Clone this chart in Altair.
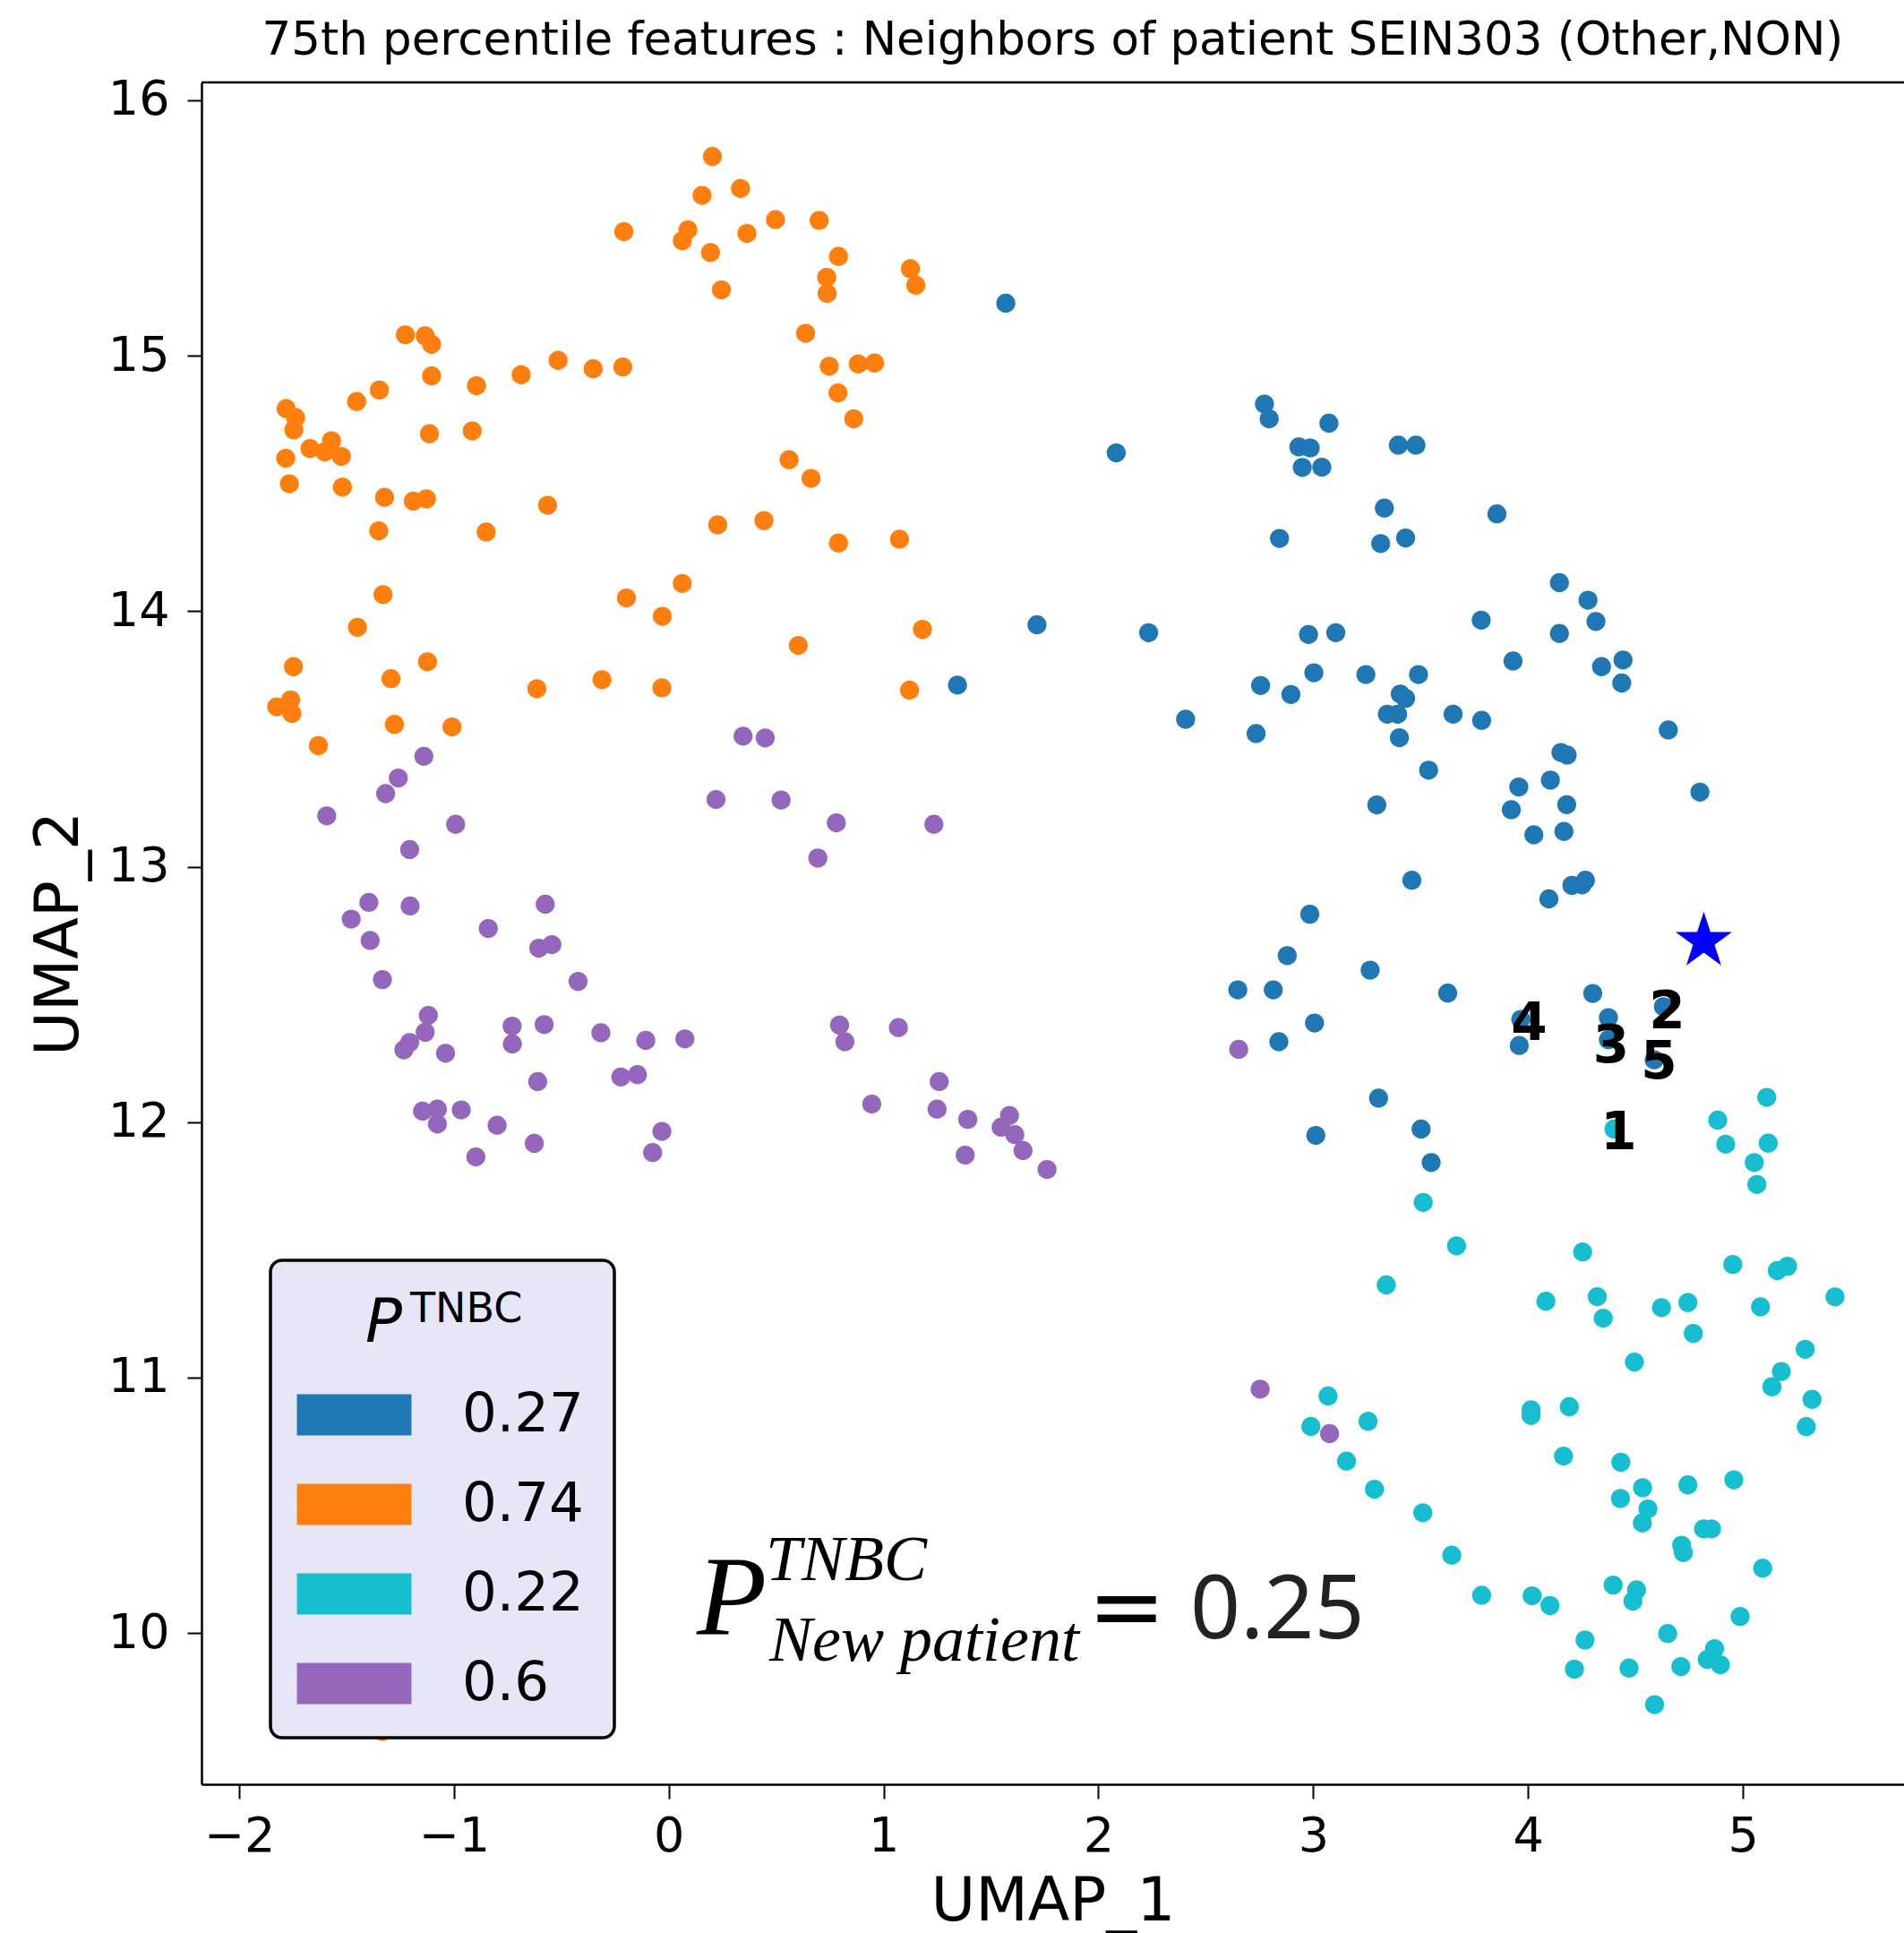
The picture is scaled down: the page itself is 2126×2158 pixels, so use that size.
import altair as alt
import pandas as pd

TITLE = "75th percentile features : Neighbors of patient SEIN303 (Other,NON)"
X_TITLE = "UMAP_1"
Y_TITLE = "UMAP_2"
x_ticks = [-2, -1, 0, 1, 2, 3, 4, 5]
y_ticks = [10, 11, 12, 13, 14, 15, 16]

group_labels = ["0.27", "0.74", "0.22", "0.6"]
group_colors = ["#1f77b4", "#ff7f0e", "#17becf", "#9467bd"]

# ---- group 0.27 (blue)
blue_x = [1.569, 2.083, 2.773, 2.795, 3.073, 2.933, 2.986, 2.949, 3.040, 2.843, 1.714, 2.234, 2.978, 3.105,
          3.396, 3.478, 3.331, 3.855, 3.314, 3.430, 4.146, 4.279, 4.316, 3.782, 4.146,
          3.245, 3.490, 3.930, 4.342, 4.442, 4.436, 3.405, 3.430, 3.345, 3.393, 3.651, 3.784, 3.401, 4.653,
          4.153, 4.182, 3.537, 3.957, 4.104, 4.800, 3.296, 3.922, 4.180, 4.027, 4.167, 3.459, 4.204, 4.252,
          4.267, 4.097, 3.265, 3.626, 4.301, 4.374, 4.374, 4.630, 4.587, 3.966, 3.959, 3.304, 3.502, 3.549,
          1.344, 2.406, 2.755, 2.896, 3.003, 2.734, 2.984, 2.879, 2.649, 2.814, 3.006, 2.840, 3.012]
blue_y = [15.206, 14.620, 14.811, 14.753, 14.736, 14.643, 14.639, 14.563, 14.564, 14.285, 13.947, 13.916, 13.909, 13.916,
          14.650, 14.650, 14.404, 14.381, 14.265, 14.287, 14.112, 14.043, 13.960, 13.965, 13.913,
          13.752, 13.752, 13.805, 13.783, 13.809, 13.719, 13.676, 13.659, 13.597, 13.597, 13.597, 13.573, 13.505, 13.535,
          13.447, 13.437, 13.378, 13.312, 13.339, 13.292, 13.242, 13.223, 13.243, 13.125, 13.138, 12.947, 12.927, 12.929,
          12.947, 12.874, 12.595, 12.505, 12.504, 12.409, 12.323, 12.452, 12.244, 12.402, 12.300, 12.094, 11.973, 11.842,
          13.711, 13.577, 13.709, 13.674, 13.759, 13.521, 12.814, 12.652, 12.518, 12.518, 12.388, 12.315, 11.948]

# ---- group 0.74 (orange)
orange_x = [0.203, 0.155, 0.334, -0.209, 0.089, 0.063, 0.194, 0.364, 0.245, -1.226, -1.134, -1.104, -1.104, -0.895,
            -0.687, -0.515, -0.352, -0.214, -1.347, -1.453, -1.781, -1.737, -1.745, -1.114, -0.915, -1.670, -1.570,
            -1.601, -1.524, -1.783, -1.766, -1.519, -1.323, -1.189, -1.128, -0.564, -1.350, -0.850, 0.228, 0.443,
            -1.330, -1.449, -0.197, 0.063, -0.030,
            0.497, 0.700, 0.790, 0.735, 0.737, 1.125, 1.150, 0.637, 0.747, 0.882, 0.958, 0.788, 0.861, 0.560, 0.662,
            0.790, 1.074, 1.181, 0.603, 1.121,
            -1.747, -1.123, -1.293, -0.614, -0.311, -0.032, -1.825, -1.760, -1.754, -1.277, -1.009, -1.631, -1.333]
orange_y = [15.780, 15.628, 15.655, 15.486, 15.493, 15.450, 15.404, 15.479, 15.258, 15.082, 15.078, 15.045, 14.921, 14.883,
            14.926, 14.982, 14.949, 14.956, 14.866, 14.821, 14.793, 14.758, 14.710, 14.695, 14.706, 14.637, 14.667,
            14.624, 14.606, 14.599, 14.499, 14.486, 14.446, 14.431, 14.440, 14.415, 14.315, 14.310, 14.338, 14.355,
            14.065, 13.937, 14.052, 14.109, 13.980,
            15.533, 15.530, 15.389, 15.307, 15.244, 15.341, 15.276, 15.088, 14.959, 14.968, 14.972, 14.855, 14.753, 14.593, 14.520,
            14.267, 14.282, 13.929, 13.866, 13.691,
            13.783, 13.802, 13.736, 13.697, 13.732, 13.700, 13.626, 13.653, 13.600, 13.557, 13.547, 13.474, 9.615]

# ---- group 0.22 (cyan)
cyan_x = [4.400, 5.111, 4.883, 4.920, 5.118, 5.053, 5.065, 3.512, 3.069, 2.989,
          3.667, 3.340, 4.254, 4.953, 5.160, 5.208, 5.429, 4.083, 4.322, 4.350, 4.621, 4.744, 4.769, 5.082, 4.495,
          5.290, 5.179, 5.135, 5.322, 5.295, 3.255, 3.155, 3.285, 3.510, 4.014, 4.014, 4.192, 4.165, 4.432, 4.533,
          4.430, 4.558, 4.532, 4.744, 4.958, 4.817, 4.854, 4.715, 4.723, 5.092, 3.645, 3.784, 4.019, 4.102, 4.396,
          4.505, 4.488, 4.987, 4.265, 4.650, 4.216, 4.470, 4.711, 4.868, 4.834, 4.895, 4.589]
cyan_y = [11.973, 12.097, 12.008, 11.914, 11.918, 11.842, 11.756, 11.686, 10.928, 10.809,
          11.516, 11.363, 11.492, 11.443, 11.419, 11.436, 11.316, 11.299, 11.317, 11.233, 11.274, 11.294, 11.173, 11.277, 11.061,
          11.111, 11.024, 10.964, 10.915, 10.808, 10.829, 10.673, 10.563, 10.471, 10.874, 10.852, 10.886, 10.693, 10.669, 10.569,
          10.527, 10.486, 10.431, 10.580, 10.600, 10.408, 10.408, 10.344, 10.315, 10.254, 10.305, 10.148, 10.146, 10.108, 10.188,
          10.169, 10.125, 10.065, 9.973, 9.998, 9.859, 9.863, 9.869, 9.939, 9.897, 9.876, 9.720]

# ---- group 0.6 (purple)
purple_x = [0.523, 0.780, 1.234, 0.694, 0.795, 0.820, 1.069, 1.259, 0.945, 1.249, 1.392, 1.586, 1.547, 1.611,
            1.649, 1.380, 1.761, 2.653,
            0.346, 0.449, -1.140, -1.259, -1.318, -1.592, -0.992, -1.206, 0.220, -1.396, -1.478, -1.204, -0.575,
            -0.840, -1.390, -0.605, -0.544, -1.333, -0.422, -1.119, -1.134, -1.206, -1.233, -0.729, -0.728, -0.580,
            -1.039, -0.316, -0.107, 0.075, -0.610, -0.223, -0.146, -1.146, -1.077, -1.077, -0.966, -0.799, -0.626,
            -0.898, -0.032, -0.075, 2.753, 3.076]
purple_y = [13.261, 13.172, 13.166, 13.034, 12.380, 12.315, 12.370, 12.159, 12.071, 12.051, 12.011, 12.026, 11.980, 11.951,
            11.889, 11.871, 11.815, 12.285,
            13.511, 13.504, 13.432, 13.347, 13.286, 13.199, 13.166, 13.067, 13.263, 12.860, 12.795, 12.846, 12.853,
            12.758, 12.711, 12.681, 12.695, 12.558, 12.551, 12.418, 12.352, 12.312, 12.283, 12.376, 12.306, 12.382,
            12.270, 12.350, 12.320, 12.326, 12.159, 12.177, 12.186, 12.043, 12.051, 11.993, 12.048, 11.988, 11.917,
            11.864, 11.964, 11.881, 10.955, 10.781]

# ---- new patient and its neighbours
star_x = [4.818]
star_y = [12.708]
neighbor_rank = ["1", "2", "3", "4", "5"]
neighbor_x = [4.422, 4.647, 4.386, 4.005, 4.609]
neighbor_y = [11.952, 12.428, 12.292, 12.382, 12.232]
p_new_patient = "0.25"

groups = [(group_labels[0], blue_x, blue_y), (group_labels[1], orange_x, orange_y),
          (group_labels[2], cyan_x, cyan_y), (group_labels[3], purple_x, purple_y)]
points = pd.concat([pd.DataFrame({"x": gx, "y": gy, "group": g}) for g, gx, gy in groups], ignore_index=True)
star_df = pd.DataFrame({"x": star_x, "y": star_y})
nb_df = pd.DataFrame({"x": neighbor_x, "y": neighbor_y, "label": neighbor_rank})
one = pd.DataFrame({"k": [0]})

STAR_PATH = ("M0,-1L0.2245,-0.309L0.951,-0.309L0.363,0.118L0.588,0.809L0,0.382"
             "L-0.588,0.809L-0.363,0.118L-0.951,-0.309L-0.2245,-0.309Z")
SWATCH_PATH = "M-2.78,-1L2.78,-1L2.78,1L-2.78,1Z"

W, H = 1901, 1900
xs = alt.Scale(domain=[-2.175, 5.75], nice=False, zero=False)
ys = alt.Scale(domain=[9.408, 16.07], nice=False, zero=False)

xenc = alt.X("x:Q", scale=xs, axis=alt.Axis(values=x_ticks, format="d", title=X_TITLE, grid=False,
                                            labelPadding=15, titlePadding=12, titleFontSize=68))
yenc = alt.Y("y:Q", scale=ys, axis=alt.Axis(values=y_ticks, format="d", title=Y_TITLE, grid=False,
                                            labelPadding=20, titlePadding=20, titleFontSize=68))

pts = alt.Chart(points).mark_circle(size=452, opacity=1).encode(
    x=xenc, y=yenc,
    color=alt.Color("group:N", title=None,
                    scale=alt.Scale(domain=group_labels, range=group_colors),
                    legend=alt.Legend(orient="none", legendX=140, legendY=1457, padding=0,
                                      symbolType=SWATCH_PATH, symbolSize=2116,
                                      symbolStrokeWidth=0, symbolOpacity=1,
                                      labelFont="DejaVu Sans", labelFontSize=61, labelColor="black",
                                      labelOffset=90, rowPadding=38)),
)

star = alt.Chart(star_df).mark_point(shape=STAR_PATH, filled=True, size=4390, color="#0000ff", opacity=1).encode(
    x="x:Q", y="y:Q")

nb = alt.Chart(nb_df).mark_text(font="DejaVu Sans", fontWeight="bold", fontSize=58, color="black",
                                align="center", baseline="middle").encode(
    x="x:Q", y="y:Q", text="label:N")

top_line = alt.Chart(one).mark_rule(color="black", strokeWidth=2.5).encode(
    x=alt.value(0), x2=alt.value(W), y=alt.value(0))

leg_bg = alt.Chart(one).mark_rect(fill="#E6E6F7", stroke="black", strokeWidth=3.5, cornerRadius=13).encode(
    x=alt.value(77), x2=alt.value(461), y=alt.value(1315), y2=alt.value(1848))

def txt(s, x, y, size, font, style="normal", align="left", color="black"):
    return alt.Chart(one).mark_text(text=s, font=font, fontSize=size, fontStyle=style, align=align,
                                    baseline="alphabetic", color=color).encode(
        x=alt.value(x), y=alt.value(y))

leg_title_p = txt("P", 183, 1406, 68, "DejaVu Sans", style="italic")
leg_title_sup = txt("TNBC", 233, 1384, 46, "DejaVu Sans")

f_p = txt("P", 553, 1733, 128, "Liberation Serif", style="italic")
f_sup = txt("TNBC", 630, 1672, 72, "Liberation Serif", style="italic")
f_sub = txt("New patient", 634, 1762, 72, "Liberation Serif", style="italic")
f_eq = txt("=", 1033, 1737, 104, "DejaVu Sans", align="center")
f_val = txt(p_new_patient, 1104, 1737, 98, "Noto Sans", color="#222222")

chart = alt.layer(pts, star, nb, top_line, leg_bg, leg_title_p, leg_title_sup, f_p, f_sup, f_sub, f_eq, f_val).properties(
    width=W, height=H,
    title=alt.TitleParams(TITLE, fontSize=51.4, font="DejaVu Sans", fontWeight="normal", anchor="middle",
                          frame="group", offset=14, color="black"),
    padding={"left": 225, "top": 92, "right": 0, "bottom": 166},
    autosize=alt.AutoSizeParams(type="none"),
    background="white",
).configure_view(strokeWidth=0).configure_axis(
    domainColor="black", domainWidth=2.5, tickColor="black", tickWidth=2, tickSize=16,
    labelColor="black", titleColor="black", labelFont="DejaVu Sans", titleFont="DejaVu Sans",
    titleFontWeight="normal", labelFontSize=54,
)

chart.save("out.html", embed_options={"renderer": "svg", "actions": False})
